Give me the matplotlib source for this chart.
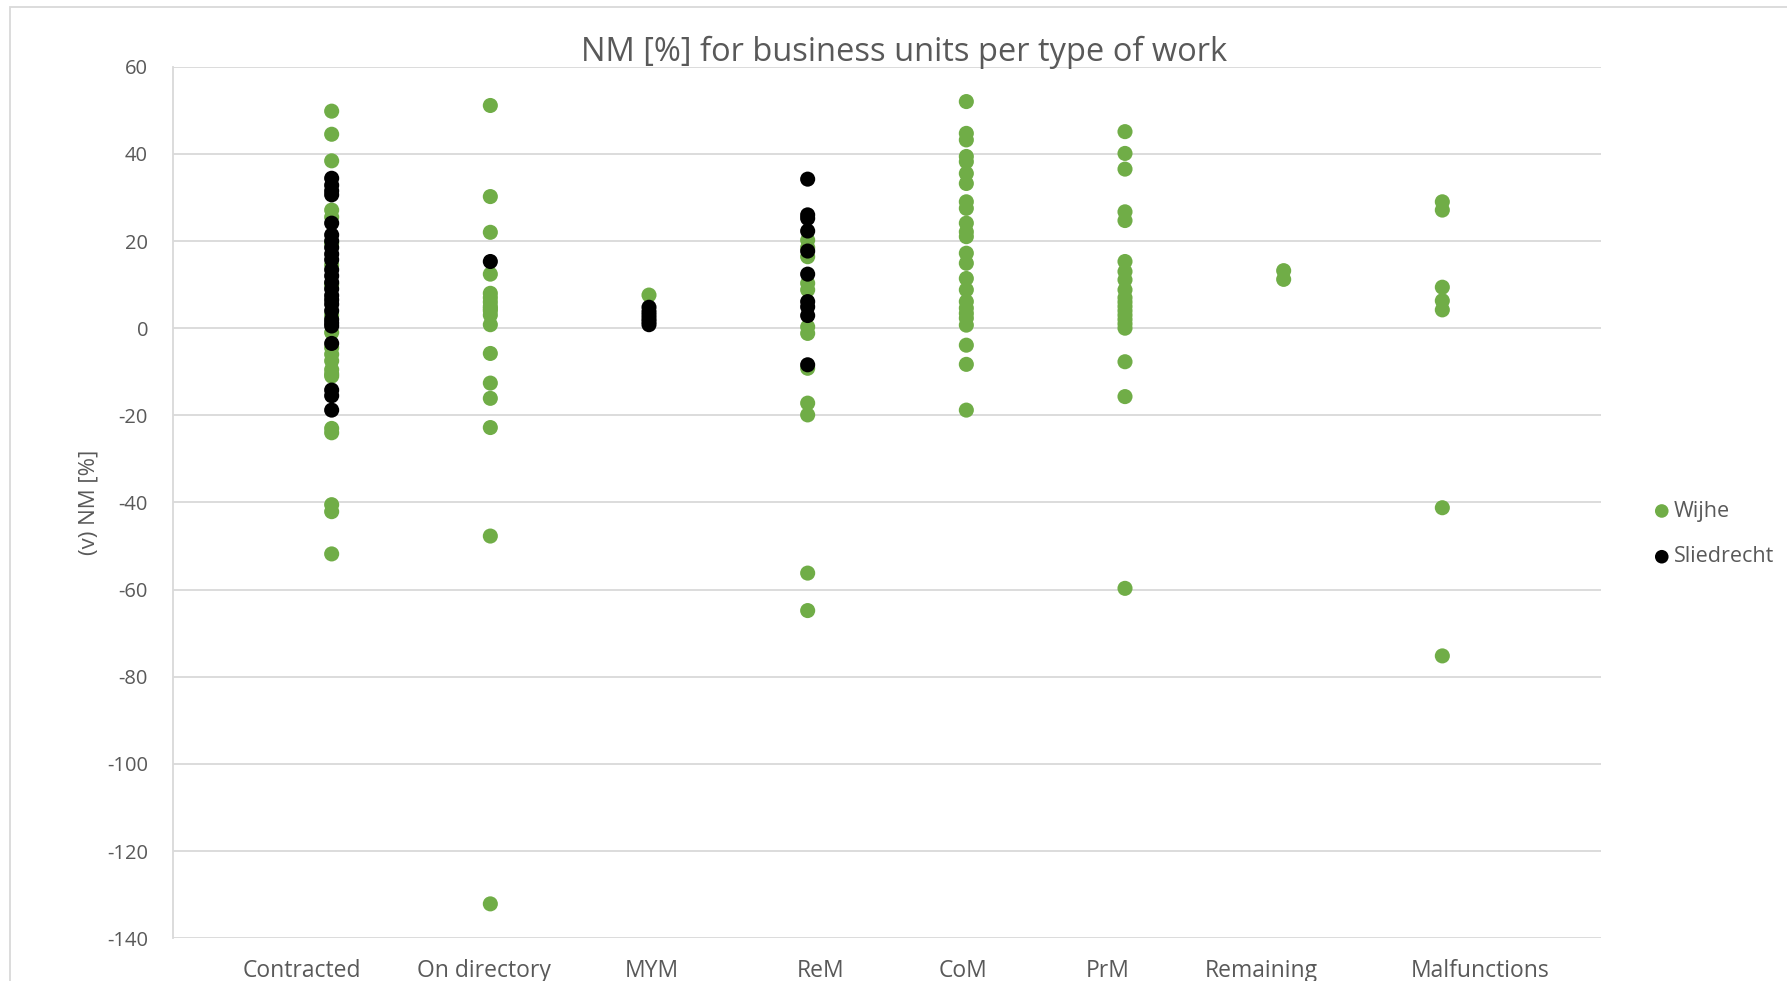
import matplotlib
matplotlib.use("Agg")
import matplotlib.pyplot as plt
from matplotlib.patches import Rectangle
from matplotlib.transforms import blended_transform_factory

plt.rcParams['font.family'] = ['Open Sans', 'DejaVu Sans']

categories = ["Contracted", "On directory", "MYM", "ReM", "CoM", "PrM",
              "Remaining", "Malfunctions"]
# horizontal placement of the category captions (in x data units)
label_x = [0.81, 1.96, 3.02, 4.08, 4.98, 5.89, 6.86, 8.24]

wijhe = {
    1: [49.8, 44.5, 38.4, 27.1, 25.5, 19.5, 14.5, 10.0, 3.0, -1.0, -4.5, -6.0,
        -7.5, -9.5, -10.5, -11.0, -23.0, -24.0, -40.5, -42.1, -51.8],
    2: [51.1, 30.2, 22.0, 12.4, 8.0, 7.0, 6.0, 5.0, 4.5, 4.0, 3.0, 0.8, -5.8,
        -12.6, -16.1, -22.8, -47.7, -132.1],
    3: [7.6],
    4: [20.2, 18.5, 16.4, 10.3, 8.8, 0.3, -1.2, -9.2, -17.2, -19.9, -56.2, -64.8],
    5: [52.0, 44.7, 43.2, 39.4, 38.2, 35.5, 33.2, 29.0, 27.5, 24.1, 22.1, 21.0,
        17.2, 14.9, 11.4, 8.8, 6.1, 4.6, 3.4, 2.3, 0.7, -3.9, -8.3, -18.8],
    6: [45.1, 40.1, 36.5, 26.7, 24.7, 15.3, 13.0, 11.1, 8.8, 7.0, 6.0, 5.0,
        4.0, 3.0, 2.0, 1.0, 0.0, -7.7, -15.7, -59.7],
    7: [13.2, 11.2],
    8: [29.0, 27.1, 9.4, 6.3, 4.2, -41.2, -75.2],
}

sliedrecht = {
    1: [34.4, 32.8, 31.5, 30.6, 24.1, 21.4, 20.0, 18.5, 17.0, 15.7, 13.4, 12.0,
        10.5, 9.0, 7.5, 6.5, 5.5, 4.0, 2.0, 1.2, 0.5, -3.5, -14.2, -15.5, -18.8],
    2: [15.3],
    3: [4.8, 3.8, 3.0, 2.2, 1.5, 0.8],
    4: [34.2, 26.0, 25.2, 22.3, 17.7, 12.4, 6.1, 4.9, 2.9, -8.4],
}

y_ticks = list(range(-140, 61, 20))

GREEN = "#70AD47"
TEXT = "#595959"
GRID = "#D9D9D9"

W, H, DPI = 1787, 981, 100
fig = plt.figure(figsize=(W / DPI, H / DPI), dpi=DPI)
fig.patch.set_facecolor("white")

# outer chart frame
fig.patches.append(Rectangle((10 / W, -0.05), 1.2, 1 - 7 / H + 0.05,
                             transform=fig.transFigure, fill=False,
                             edgecolor=GRID, linewidth=1.3))

ax = fig.add_axes([173 / W, 1 - 938.3 / H, (1601 - 173) / W, (938.3 - 66.7) / H])

wx = [k for k, v in wijhe.items() for _ in v]
wy = [y for v in wijhe.values() for y in v]
sx = [k for k, v in sliedrecht.items() for _ in v]
sy = [y for v in sliedrecht.values() for y in v]

ax.scatter(wx, wy, s=118, color=GREEN, edgecolors="none", zorder=3, label="Wijhe")
ax.scatter(sx, sy, s=118, color="black", edgecolors="none", zorder=4, label="Sliedrecht")

ax.set_xlim(0, 9)
ax.set_ylim(-140, 60)
ax.set_yticks(y_ticks)
ax.set_yticklabels([str(t) for t in y_ticks], color=TEXT, fontsize=14.5)
ax.set_xticks([])
ax.tick_params(axis="y", length=0, pad=18)
ax.grid(axis="y", color=GRID, linewidth=1.3, zorder=0)
for side in ("top", "right", "bottom"):
    ax.spines[side].set_visible(False)
ax.spines["left"].set_color(GRID)
ax.spines["left"].set_linewidth(1.3)

cap_tr = blended_transform_factory(ax.transData, fig.transFigure)
for x, name in zip(label_x, categories):
    ax.text(x, 1 - 971 / H, name, transform=cap_tr, clip_on=False,
            ha="center", va="center", fontsize=16.5, color=TEXT)

ax.set_ylabel("(v) NM [%]", color=TEXT, fontsize=16)
ax.yaxis.set_label_coords(99 / W, 0.5, transform=blended_transform_factory(fig.transFigure, ax.transAxes))

fig.text(904 / W, 1 - 52 / H, "NM [%] for business units per type of work",
         ha="center", va="center", fontsize=23.5, color=TEXT)

leg = fig.legend(loc="center left", bbox_to_anchor=(1651 / W, 1 - 534 / H),
                 frameon=False, fontsize=15.5, labelcolor=TEXT,
                 handlelength=1.0, handletextpad=0.05,
                 borderpad=0, borderaxespad=0, labelspacing=1.15, markerscale=0.9)

fig.savefig("out.png", dpi=DPI, facecolor="white")
